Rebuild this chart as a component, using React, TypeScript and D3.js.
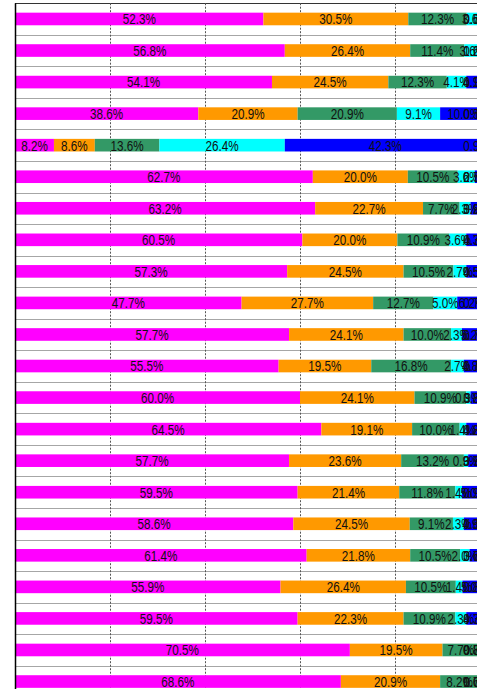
import React, { useEffect, useRef } from "react";
import * as d3 from "d3";

// One entry per bar (top to bottom); category names are cut off in the picture
const rows = ["1", "2", "3", "4", "5", "6", "7", "8", "9", "10", "11", "12", "13", "14", "15", "16", "17", "18", "19", "20", "21", "22"];

const magenta = [52.3, 56.8, 54.1, 38.6, 8.2, 62.7, 63.2, 60.5, 57.3, 47.7, 57.7, 55.5, 60.0, 64.5, 57.7, 59.5, 58.6, 61.4, 55.9, 59.5, 70.5, 68.6];
const orange = [30.5, 26.4, 24.5, 20.9, 8.6, 20.0, 22.7, 20.0, 24.5, 27.7, 24.1, 19.5, 24.1, 19.1, 23.6, 21.4, 24.5, 21.8, 26.4, 22.3, 19.5, 20.9];
const green = [12.3, 11.4, 12.3, 20.9, 13.6, 10.5, 7.7, 10.9, 10.5, 12.7, 10.0, 16.8, 10.9, 10.0, 13.2, 11.8, 9.1, 10.5, 10.5, 10.9, 7.7, 8.2];
const cyan = [3.6, 3.6, 4.1, 9.1, 26.4, 3.6, 2.3, 3.6, 2.7, 5.0, 2.3, 2.7, 0.9, 1.4, 0.9, 1.4, 2.3, 2.0, 1.4, 2.3, 0.8, 0.6];
const blue = [0.6, 1.2, 4.1, 10.0, 42.3, 2.7, 3.2, 4.3, 4.5, 6.2, 5.2, 4.8, 3.3, 4.2, 3.9, 5.0, 4.9, 3.6, 5.0, 4.3, 0.8, 1.0];
const other = [0.7, 0.6, 0.9, 0.5, 0.9, 0.5, 0.9, 0.7, 0.5, 0.7, 0.7, 0.7, 0.8, 0.8, 0.7, 0.9, 0.6, 0.7, 0.8, 0.7, 0.7, 0.7];

const gridTicks = [20, 40, 60, 80, 100];

const seriesKeys = ["magenta", "orange", "green", "cyan", "blue", "other"];
const seriesValues: Record<string, number[]> = { magenta, orange, green, cyan, blue, other };
const colors: Record<string, string> = {
  magenta: "#ff00ff",
  orange: "#ff9900",
  green: "#339966",
  cyan: "#00ffff",
  blue: "#0000ff",
  other: "#993366",
};

export default function App() {
  const svgRef = useRef<SVGSVGElement>(null);

  useEffect(() => {
    const width = 477;
    const height = 689;
    const svg = d3.select(svgRef.current);
    svg.selectAll("*").remove();

    // Build table for the stack
    const data = rows.map((r, i) => {
      const obj: any = { row: r };
      seriesKeys.forEach((k) => (obj[k] = seriesValues[k][i]));
      return obj;
    });

    // Scales (plot runs past the right and bottom edge of the picture)
    const xScale = d3.scaleLinear().domain([0, 100]).range([15, 490]);
    const yScale = d3.scaleBand()
      .domain(rows)
      .range([3.2, 3.2 + rows.length * 31.55])
      .paddingInner(0.6)
      .paddingOuter(0.3);
    const step = yScale.step();
    const top = yScale.range()[0];

    // Category separators
    svg.append("g")
      .selectAll("line")
      .data(d3.range(rows.length + 1))
      .enter()
      .append("line")
      .attr("x1", xScale(0))
      .attr("x2", width)
      .attr("y1", (i) => Math.round(top + i * step) + 0.5)
      .attr("y2", (i) => Math.round(top + i * step) + 0.5)
      .attr("stroke", (i) => (i === 0 ? "#333" : "#a6a6a6"))
      .attr("stroke-width", 1);

    // Dashed value gridlines
    svg.append("g")
      .selectAll("line")
      .data(gridTicks)
      .enter()
      .append("line")
      .attr("x1", (d) => Math.round(xScale(d)) + 0.5)
      .attr("x2", (d) => Math.round(xScale(d)) + 0.5)
      .attr("y1", top)
      .attr("y2", height)
      .attr("stroke", "#555")
      .attr("stroke-dasharray", "2,1.5");

    const stacked = d3.stack().keys(seriesKeys)(data);

    // Bars
    svg.append("g")
      .selectAll("g")
      .data(stacked)
      .enter()
      .append("g")
      .attr("fill", (s) => colors[s.key])
      .selectAll("rect")
      .data((s) => s)
      .enter()
      .append("rect")
      .attr("x", (d) => xScale(d[0]))
      .attr("width", (d) => xScale(d[1]) - xScale(d[0]))
      .attr("y", (d) => yScale((d.data as any).row)!)
      .attr("height", yScale.bandwidth());

    // Left axis line
    svg.append("line")
      .attr("x1", 15.5)
      .attr("x2", 15.5)
      .attr("y1", top)
      .attr("y2", height)
      .attr("stroke", "#000")
      .attr("stroke-width", 1.5);

    // Data labels, kept inside the chart's right edge like Excel does
    const sx = 0.78;
    const rightEdge = xScale(100);
    const labels = svg.append("g")
      .style("font-family", "'Liberation Sans', Arial, sans-serif")
      .style("font-size", "15px")
      .attr("fill", "#111");

    stacked.forEach((s) => {
      s.forEach((d) => {
        const value = d[1] - d[0];
        const cy = yScale((d.data as any).row)! + yScale.bandwidth() / 2;
        const text = labels.append("text")
          .attr("text-anchor", "middle")
          .attr("dy", "0.36em")
          .text(value.toFixed(1) + "%");
        const w = (text.node() as SVGTextElement).getComputedTextLength() * sx;
        let cx = (xScale(d[0]) + xScale(d[1])) / 2;
        cx = Math.min(cx, rightEdge - w / 2);
        text.attr("transform", `translate(${cx},${cy}) scale(${sx},1)`);
      });
    });
  }, []);

  return (
    <svg
      ref={svgRef}
      width={477}
      height={689}
      style={{ position: "absolute", left: 0, top: 0, background: "#fff" }}
    />
  );
}
